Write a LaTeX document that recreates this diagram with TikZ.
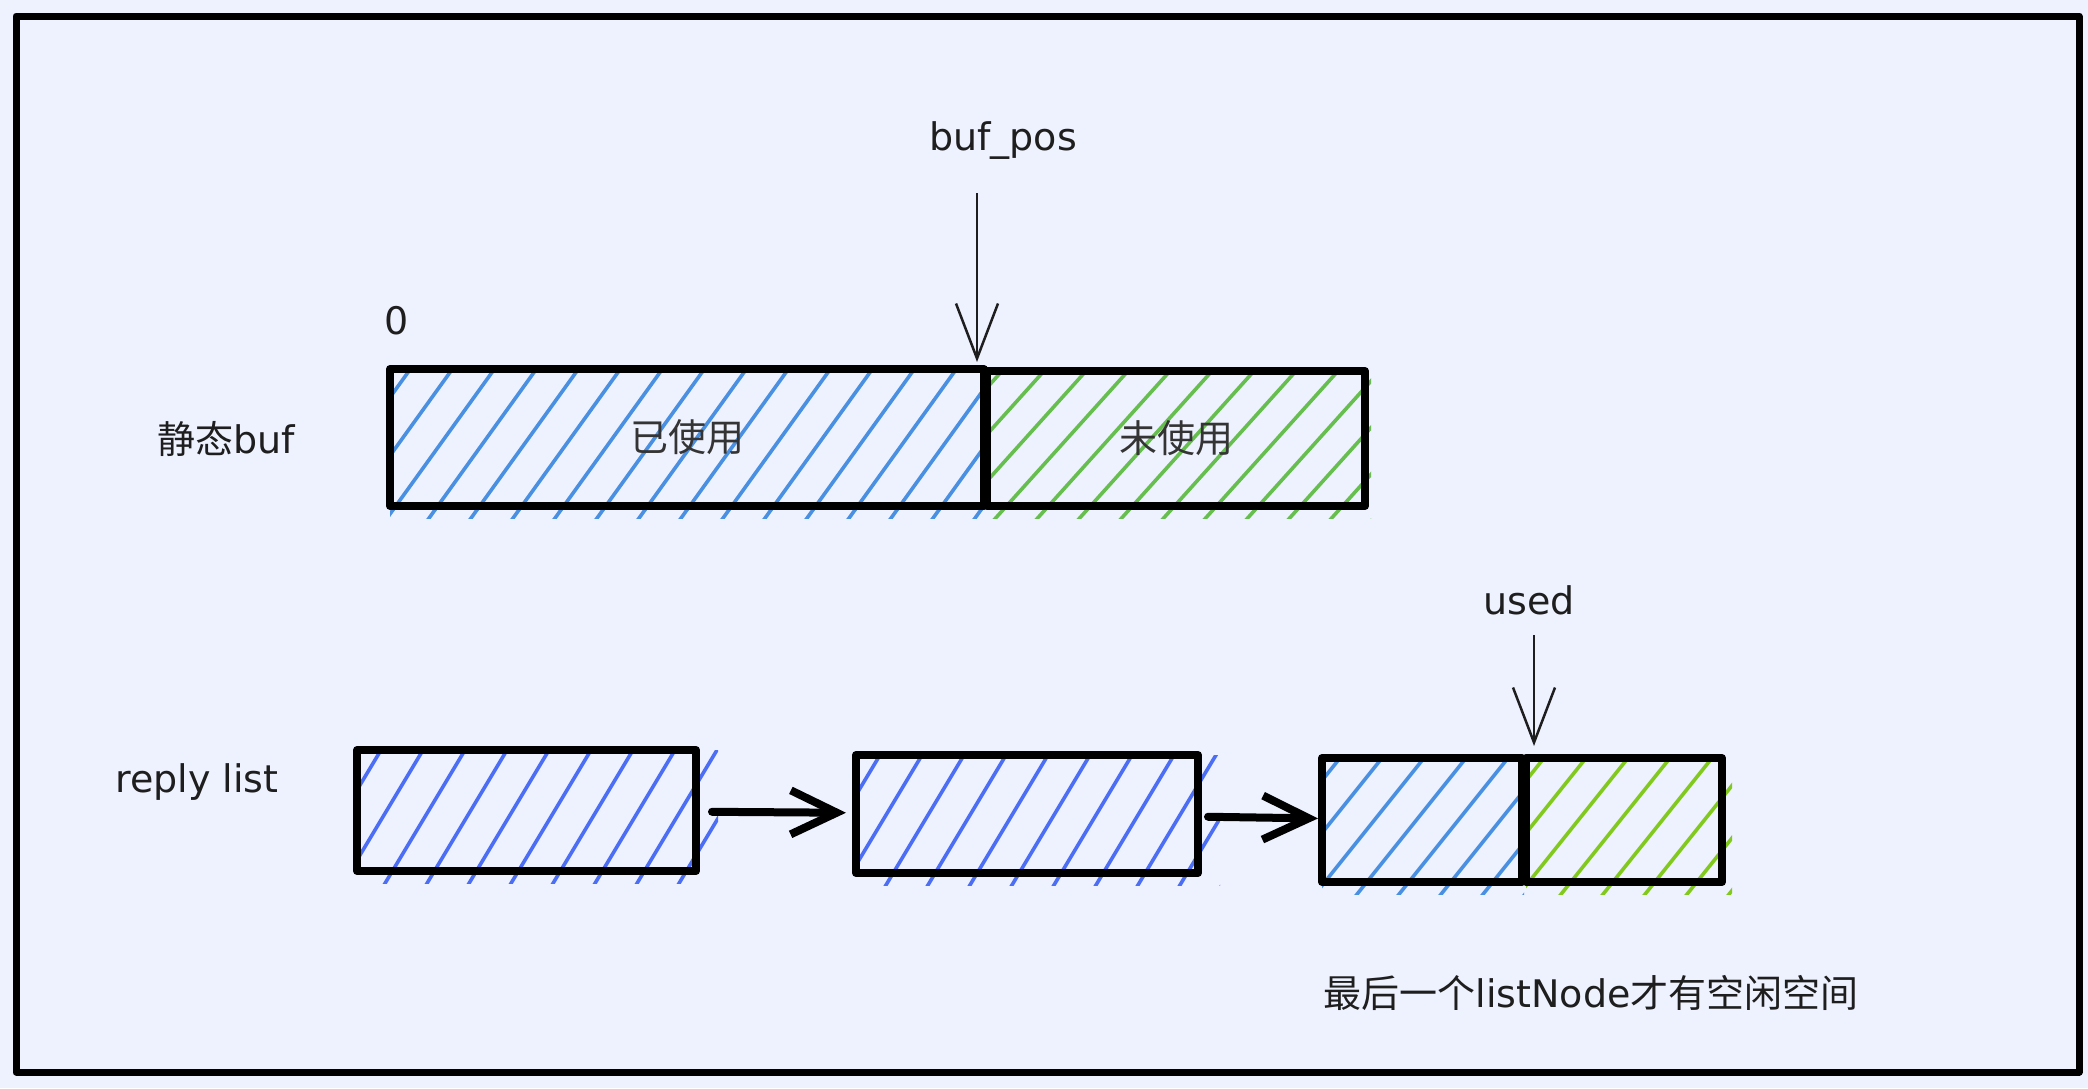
\documentclass[tikz,border=0pt]{standalone}
\usepackage{fontspec}
\setmainfont{DejaVu Sans}
\newfontfamily\cjk{Noto Sans CJK SC}
\usetikzlibrary{arrows.meta}
\definecolor{bg}{HTML}{EEF2FE}
\definecolor{hblue}{HTML}{4A90E2}
\definecolor{hgreen}{HTML}{66BE4E}
\definecolor{hindigo}{HTML}{4C6EF5}
\definecolor{hlime}{HTML}{82C91E}
\definecolor{ink}{HTML}{1E1E1E}
\definecolor{boxtext}{HTML}{343434}
% x1 y1 x2 y2 color cot spacing extra-right extra-bottom
\newcommand\hatchbox[9]{%
  \begin{scope}
    \clip (#1,#2) rectangle (#3+#8,#4+#9);
    \pgfmathsetmacro\hsh{(#4-#2+60)*#6}
    \foreach \i in {0,...,32}{
      \pgfmathsetmacro\ht{#1-\hsh+\i*#7}
      \draw[#5, line width=3.6pt] (\ht,#4+30) -- (\ht+\hsh,#2-30);
    }
  \end{scope}}
\begin{document}
\begin{tikzpicture}[x=1pt,y=-1pt,
  lbl/.style={font=\fontsize{38}{46}\selectfont, text=ink, inner sep=2pt},
  box/.style={draw=black, line width=8pt, inner sep=0pt, line join=round,
              font=\fontsize{38}{46}\selectfont\cjk, text=boxtext},
  thinarrow/.style={draw=ink, line width=2.5pt,
              -{Straight Barb[length=55pt, width=42pt, line width=2.5pt]}},
  fatarrow/.style={draw=black, line width=8pt, line cap=round,
              -{Straight Barb[length=46pt, width=44pt, line width=8pt]}}]
  \fill[bg] (0,0) rectangle (2088,1088);
  \useasboundingbox (0,0) rectangle (2088,1088);
  \draw[line width=7pt, line join=round] (16,16) rectangle (2079,1072);

  % hatching
  \hatchbox{390}{369}{984}{506}{hblue}{0.72}{42}{4}{12}
  \hatchbox{987}{371}{1365}{506}{hgreen}{0.9}{42}{6}{12}
  \hatchbox{357}{750}{696}{871}{hindigo}{0.6}{42}{22}{12}
  \hatchbox{856}{755}{1198}{873}{hindigo}{0.6}{42}{22}{12}
  \hatchbox{1322}{758}{1524}{882}{hblue}{0.8}{42}{0}{12}
  \hatchbox{1526}{758}{1722}{882}{hlime}{0.8}{42}{10}{12}

  % static buf
  \node[box, minimum width=594pt, minimum height=137pt] (used) at (687,437.5) {已使用};
  \node[box, minimum width=378pt, minimum height=135pt] (unused) at (1176,438.5) {未使用};
  \node[lbl] (zero) at (397,321) {0};
  \node[lbl] (static) at (226,439) {{\cjk 静态}buf};
  \node[lbl] (bufpos) at (1003,141) {buf\_pos};
  \coordinate (bptail) at (977,193);
  \coordinate (bptip) at (977,362);
  \draw[thinarrow] (bptail) -- (bptip);

  % reply list
  \node[lbl] (reply) at (197,782) {reply list};
  \node[box, minimum width=339pt, minimum height=121pt] (b1) at (526.5,810.5) {};
  \node[box, minimum width=342pt, minimum height=118pt] (b2) at (1027,814) {};
  \node[box, minimum width=200pt, minimum height=124pt] (b3a) at (1422,820) {};
  \node[box, minimum width=196pt, minimum height=124pt] (b3b) at (1624,820) {};
  \draw[fatarrow, shorten <=12pt, shorten >=6pt] (b1) -- (b2);
  \draw[fatarrow, shorten <=6pt] (b2) -- (b3a);

  \node[lbl] (usedlbl) at (1529,600) {used};
  \coordinate (utail) at (1534,635);
  \coordinate (utip) at (1534,746);
  \draw[thinarrow] (utail) -- (utip);

  \node[lbl] (note) at (1591,993) {{\cjk 最后一个}listNode{\cjk 才有空闲空间}};
\end{tikzpicture}
\end{document}
